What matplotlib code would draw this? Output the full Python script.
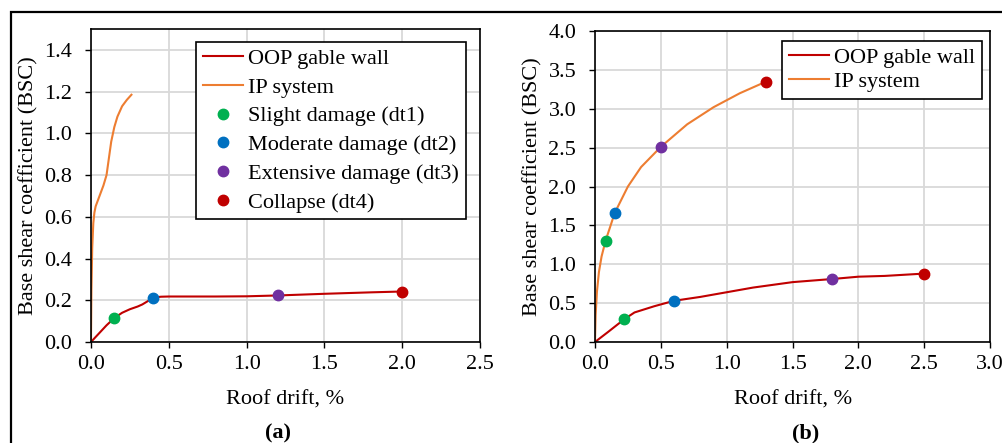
import matplotlib
matplotlib.use("Agg")
import matplotlib.pyplot as plt
from matplotlib.patches import Rectangle
from matplotlib.ticker import FormatStrFormatter

plt.rcParams["font.family"] = ["Liberation Serif", "DejaVu Serif"]
FS = 16

# (a) pushover curves
a_oop_x = [0.0, 0.05, 0.10, 0.15, 0.20, 0.25, 0.30, 0.33, 0.37, 0.40, 0.45, 0.50, 0.80, 1.00, 1.20, 1.50, 1.80, 2.00]
a_oop_y = [0.0, 0.04, 0.08, 0.115, 0.14, 0.157, 0.170, 0.180, 0.198, 0.213, 0.217, 0.218, 0.218, 0.219, 0.223, 0.231, 0.238, 0.242]
a_ip_x = [0.0, 0.003, 0.008, 0.015, 0.022, 0.03, 0.045, 0.06, 0.08, 0.10, 0.115, 0.13, 0.15, 0.17, 0.20, 0.23, 0.26]
a_ip_y = [0.0, 0.25, 0.45, 0.57, 0.62, 0.65, 0.68, 0.71, 0.75, 0.80, 0.88, 0.96, 1.03, 1.08, 1.13, 1.16, 1.185]
a_dt_x = [0.15, 0.40, 1.20, 2.00]
a_dt_y = [0.115, 0.213, 0.223, 0.242]

# (b) pushover curves
b_oop_x = [0.0, 0.10, 0.22, 0.30, 0.45, 0.60, 0.80, 1.00, 1.20, 1.50, 1.80, 2.00, 2.20, 2.50]
b_oop_y = [0.0, 0.13, 0.29, 0.38, 0.46, 0.53, 0.58, 0.64, 0.70, 0.77, 0.81, 0.84, 0.85, 0.88]
b_ip_x = [0.0, 0.005, 0.015, 0.03, 0.05, 0.08, 0.15, 0.25, 0.35, 0.50, 0.70, 0.90, 1.10, 1.30]
b_ip_y = [0.0, 0.35, 0.65, 0.90, 1.10, 1.30, 1.66, 2.00, 2.25, 2.51, 2.80, 3.02, 3.20, 3.35]
b_ip_dt_x = [0.08, 0.15, 0.50, 1.30]
b_ip_dt_y = [1.30, 1.66, 2.51, 3.35]
b_oop_dt_x = [0.22, 0.60, 1.80, 2.50]
b_oop_dt_y = [0.29, 0.53, 0.81, 0.88]

dt_labels = ["Slight damage (dt1)", "Moderate damage (dt2)", "Extensive damage (dt3)", "Collapse (dt4)"]
dt_colors = ["#00B050", "#0070C0", "#7030A0", "#C00000"]
oop_color = "#C00000"
ip_color = "#ED7D31"


def style_axes(ax, xmax, ymax, ystep, ytop_label):
    ax.set_xlim(0, xmax)
    ax.set_ylim(0, ymax)
    ax.set_xticks([i * 0.5 for i in range(int(xmax / 0.5) + 1)])
    ax.set_yticks([round(i * ystep, 2) for i in range(int(round(ytop_label / ystep)) + 1)])
    ax.xaxis.set_major_formatter(FormatStrFormatter("%.1f"))
    ax.yaxis.set_major_formatter(FormatStrFormatter("%.1f"))
    ax.grid(True, color="#D9D9D9", linewidth=1.3)
    ax.set_axisbelow(True)
    ax.tick_params(direction="out", length=4.5, width=1, labelsize=FS)
    ax.tick_params(axis="y", pad=9)
    ax.tick_params(axis="x", pad=5)
    for s in ax.spines.values():
        s.set_color("black")
        s.set_linewidth(1.2)
    ax.set_xlabel("Roof drift, %", fontsize=FS, labelpad=12)
    ax.set_ylabel("Base shear coefficient (BSC)", fontsize=FS, labelpad=4)


def add_legend(ax, anchor, spacing):
    leg = ax.legend(loc="upper right", bbox_to_anchor=anchor, frameon=True, fancybox=False,
                    edgecolor="black", framealpha=1, fontsize=FS, handlelength=1.8,
                    handletextpad=0.25, borderpad=0.3, labelspacing=spacing, borderaxespad=0)
    leg.get_frame().set_linewidth(1.2)


fig = plt.figure(figsize=(10.03, 4.43), dpi=100)
fig.patches.append(Rectangle((0.0105, -0.1), 1.2, 0.973 + 0.1, transform=fig.transFigure,
                             fill=False, edgecolor="black", linewidth=1.6))

ax1 = fig.add_axes([0.0907, 0.228, 0.3879, 0.7065])
ax1.plot(a_oop_x, a_oop_y, color=oop_color, lw=1.5, label="OOP gable wall")
ax1.plot(a_ip_x, a_ip_y, color=ip_color, lw=1.5, label="IP system")
for x, y, c, lab in zip(a_dt_x, a_dt_y, dt_colors, dt_labels):
    ax1.plot([x], [y], "o", color=c, ms=7.5, ls="none", label=lab, zorder=5)
style_axes(ax1, 2.5, 1.5, 0.2, 1.4)
add_legend(ax1, (0.963, 0.96), 0.37)

ax2 = fig.add_axes([0.5932, 0.228, 0.394, 0.702])
ax2.plot(b_oop_x, b_oop_y, color=oop_color, lw=1.5, label="OOP gable wall")
ax2.plot(b_ip_x, b_ip_y, color=ip_color, lw=1.5, label="IP system")
for xs, ys in [(b_ip_dt_x, b_ip_dt_y), (b_oop_dt_x, b_oop_dt_y)]:
    for x, y, c in zip(xs, ys, dt_colors):
        ax2.plot([x], [y], "o", color=c, ms=7.5, zorder=5)
style_axes(ax2, 3.0, 4.0, 0.5, 4.0)
add_legend(ax2, (0.98, 0.968), 0.15)

fig.text(0.277, 0.022, "(a)", ha="center", va="center", fontsize=FS, fontweight="bold")
fig.text(0.803, 0.022, "(b)", ha="center", va="center", fontsize=FS, fontweight="bold")

fig.savefig("out.png", dpi=100)
plt.close(fig)
